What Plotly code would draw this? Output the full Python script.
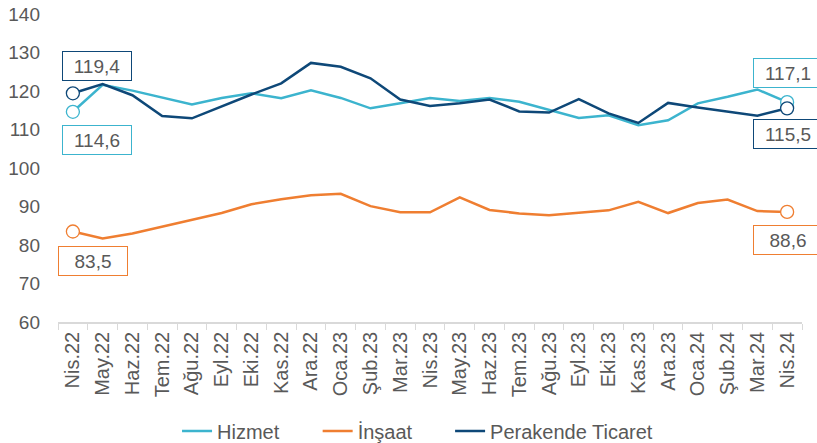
import plotly.graph_objects as go

months = ["Nis.22", "May.22", "Haz.22", "Tem.22", "Ağu.22", "Eyl.22", "Eki.22", "Kas.22",
          "Ara.22", "Oca.23", "Şub.23", "Mar.23", "Nis.23", "May.23", "Haz.23", "Tem.23",
          "Ağu.23", "Eyl.23", "Eki.23", "Kas.23", "Ara.23", "Oca.24", "Şub.24", "Mar.24", "Nis.24"]

hizmet = [114.6, 121.6, 120.1, 118.2, 116.5, 118.2, 119.4, 118.1, 120.2, 118.2, 115.5, 116.8,
          118.2, 117.4, 118.2, 117.2, 115.2, 113.0, 113.7, 111.1, 112.4, 116.8, 118.5, 120.4, 117.1]
insaat = [83.5, 81.7, 83.0, 84.7, 86.4, 88.3, 90.6, 91.9, 92.9, 93.3, 90.1, 88.5,
          88.5, 92.4, 89.1, 88.2, 87.7, 88.4, 89.0, 91.2, 88.3, 90.9, 91.8, 88.8, 88.6]
perakende = [119.4, 121.8, 118.9, 113.5, 112.9, 116.1, 119.1, 122.0, 127.3, 126.3, 123.3, 117.8,
             116.1, 116.8, 117.8, 114.7, 114.4, 117.9, 114.2, 111.7, 116.9, 115.7, 114.7, 113.6, 115.5]

series = [("Hizmet", hizmet, "#3CB4CE", "legend"),
          ("İnşaat", insaat, "#EF7E31", "legend2"),
          ("Perakende Ticaret", perakende, "#0E4878", "legend3")]

# label offsets (px) for first / last value boxes
offsets = {"Hizmet": ((24, -28), (1, 29)),
           "İnşaat": ((20, -29), (1, -28)),
           "Perakende Ticaret": ((24, 27), (1, -26))}

grey = "#595959"
font = "Liberation Sans, Arial, sans-serif"

fig = go.Figure()
for name, vals, col, leg in series:
    fig.add_trace(go.Scatter(x=months, y=vals, name=name, mode="lines", legend=leg,
                             line=dict(color=col, width=2.5)))
for name, vals, col, leg in series:
    fig.add_trace(go.Scatter(x=[months[0], months[-1]], y=[vals[0], vals[-1]], mode="markers",
                             showlegend=False,
                             marker=dict(size=13, color="white", line=dict(color=col, width=1.3))))
    for idx, (dx, dy) in zip((0, -1), offsets[name]):
        fig.add_annotation(x=months[idx], y=vals[idx], text=f"{vals[idx]:.1f}".replace(".", ","),
                           showarrow=False, xshift=dx, yshift=dy,
                           width=64, height=24, borderpad=2,
                           bordercolor=col, borderwidth=1, bgcolor="white",
                           font=dict(family=font, size=19, color=grey))

leg_style = dict(orientation="h", xanchor="left", y=-0.354, yanchor="middle",
                 font=dict(size=20, color=grey), bgcolor="rgba(0,0,0,0)")
fig.update_layout(
    width=817, height=443,
    margin=dict(l=58, r=15, t=14, b=121, autoexpand=False),
    plot_bgcolor="white", paper_bgcolor="white",
    font=dict(family=font, size=19, color=grey),
    legend=dict(x=0.16, **leg_style),
    legend2=dict(x=0.349, **leg_style),
    legend3=dict(x=0.527, **leg_style),
)
fig.update_xaxes(type="category", range=[-0.5, len(months) - 0.5], showgrid=False,
                 showline=True, linecolor="#D9D9D9", linewidth=1.5,
                 ticks="outside", tickson="boundaries", ticklen=6, tickcolor="#D9D9D9",
                 tickangle=-90, tickfont=dict(size=20, color=grey), automargin=False)
fig.update_yaxes(range=[60, 140], dtick=10, showgrid=False, zeroline=False, showline=False,
                 ticklabelstandoff=17, tickfont=dict(size=19, color=grey), automargin=False)

# drop the page's default body margin so the figure fills the window exactly
fix_page = ("document.body.style.margin='0';document.body.style.overflow='hidden';"
            "Plotly.relayout(document.getElementById('{plot_id}'), {width: 817, height: 443});")
fig.write_html("out.html", config={"displayModeBar": False}, post_script=fix_page)
